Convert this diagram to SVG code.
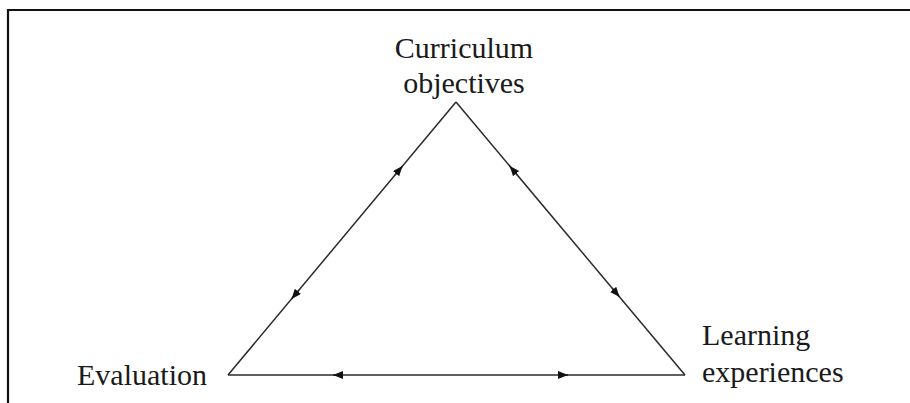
<svg xmlns="http://www.w3.org/2000/svg" width="910" height="403" viewBox="0 0 910 403">
<style>
.lbl{font-family:"Liberation Serif","Times New Roman",serif;font-size:30px;fill:#1a1a1a}
.edge{stroke:#2a2a2a;stroke-width:1.5;fill:none}
.frame{stroke:#111;stroke-width:2.2;fill:none}
</style>
<defs>
<marker id="ah" markerUnits="userSpaceOnUse" markerWidth="12" markerHeight="10" refX="10" refY="4" orient="auto">
<path d="M0,0 L10,4 L0,8 Z" fill="#111"/>
</marker>
</defs>
<rect width="910" height="403" fill="#fff"/>
<path class="frame" d="M8,403 L8,10 L910,10"/>
<g id="connectors">
<path class="edge" d="M456,102 L228,375"/>
<path class="edge" d="M456,102 L685,375"/>
<path class="edge" d="M228,375 L685,375"/>
<path class="edge" marker-end="url(#ah)" d="M395,175 L402.5,166"/>
<path class="edge" marker-end="url(#ah)" d="M299,290 L291.5,299"/>
<path class="edge" marker-end="url(#ah)" d="M517.2,175 L509.7,166"/>
<path class="edge" marker-end="url(#ah)" d="M612,288 L619.6,297"/>
<path class="edge" marker-end="url(#ah)" d="M343,375 L333,375"/>
<path class="edge" marker-end="url(#ah)" d="M558,375 L568,375"/>
</g>
<g id="node-curriculum">
<text class="lbl" x="464" y="58" text-anchor="middle">Curriculum</text>
<text class="lbl" x="464" y="93" text-anchor="middle">objectives</text>
</g>
<g id="node-evaluation">
<text class="lbl" x="77" y="385">Evaluation</text>
</g>
<g id="node-learning">
<text class="lbl" x="702" y="345">Learning</text>
<text class="lbl" x="702" y="382">experiences</text>
</g>
</svg>
